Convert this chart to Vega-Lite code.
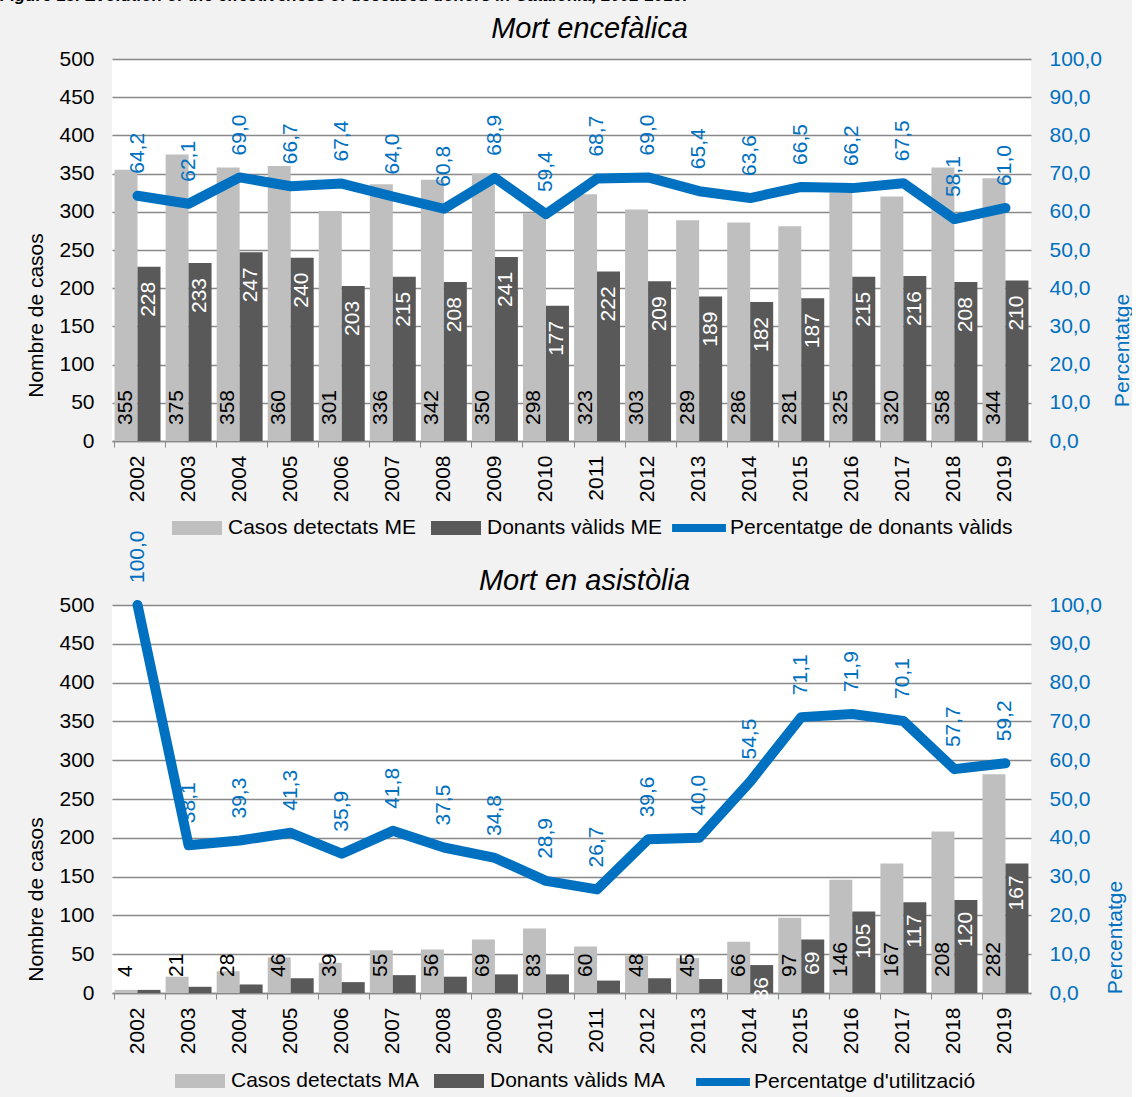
{
  "$schema": "https://vega.github.io/schema/vega-lite/v6.json",
  "background": "#f2f2f2",
  "padding": {"left": 0, "top": -13, "right": 0, "bottom": 0},
  "title": {"text": "Figure 13. Evolution of the effectiveness of deceased donors in Catalonia, 2002-2019.", "anchor": "start", "fontSize": 17, "fontStyle": "italic", "fontWeight": "bold", "color": "black", "dy": -10, "dx": -25, "offset": 0},
  "bounds": "flush",
  "spacing": 164,
  "resolve": {"scale": {"color": "independent", "stroke": "independent"}, "legend": {"color": "independent", "stroke": "independent"}},
  "config": {
    "font": "Liberation Sans",
    "locale": {"number": {"decimal": ",", "thousands": ".", "grouping": [3], "currency": ["", " €"]}},
    "view": {"fill": "white", "stroke": null},
    "axis": {"labelFontSize": 21, "titleFontSize": 21, "titleFontWeight": "normal", "labelColor": "black", "titleColor": "black"},
    "legend": {"labelFontSize": 21, "labelColor": "black", "labelLimit": 0, "labelOffset": 6, "columnPadding": 15, "direction": "horizontal", "orient": "none", "title": null}
  },
  "datasets": {
    "me_bars": [
      {"year": "2002", "serie": "Casos detectats ME", "n": 355}, {"year": "2002", "serie": "Donants vàlids ME", "n": 228},
      {"year": "2003", "serie": "Casos detectats ME", "n": 375}, {"year": "2003", "serie": "Donants vàlids ME", "n": 233},
      {"year": "2004", "serie": "Casos detectats ME", "n": 358}, {"year": "2004", "serie": "Donants vàlids ME", "n": 247},
      {"year": "2005", "serie": "Casos detectats ME", "n": 360}, {"year": "2005", "serie": "Donants vàlids ME", "n": 240},
      {"year": "2006", "serie": "Casos detectats ME", "n": 301}, {"year": "2006", "serie": "Donants vàlids ME", "n": 203},
      {"year": "2007", "serie": "Casos detectats ME", "n": 336}, {"year": "2007", "serie": "Donants vàlids ME", "n": 215},
      {"year": "2008", "serie": "Casos detectats ME", "n": 342}, {"year": "2008", "serie": "Donants vàlids ME", "n": 208},
      {"year": "2009", "serie": "Casos detectats ME", "n": 350}, {"year": "2009", "serie": "Donants vàlids ME", "n": 241},
      {"year": "2010", "serie": "Casos detectats ME", "n": 298}, {"year": "2010", "serie": "Donants vàlids ME", "n": 177},
      {"year": "2011", "serie": "Casos detectats ME", "n": 323}, {"year": "2011", "serie": "Donants vàlids ME", "n": 222},
      {"year": "2012", "serie": "Casos detectats ME", "n": 303}, {"year": "2012", "serie": "Donants vàlids ME", "n": 209},
      {"year": "2013", "serie": "Casos detectats ME", "n": 289}, {"year": "2013", "serie": "Donants vàlids ME", "n": 189},
      {"year": "2014", "serie": "Casos detectats ME", "n": 286}, {"year": "2014", "serie": "Donants vàlids ME", "n": 182},
      {"year": "2015", "serie": "Casos detectats ME", "n": 281}, {"year": "2015", "serie": "Donants vàlids ME", "n": 187},
      {"year": "2016", "serie": "Casos detectats ME", "n": 325}, {"year": "2016", "serie": "Donants vàlids ME", "n": 215},
      {"year": "2017", "serie": "Casos detectats ME", "n": 320}, {"year": "2017", "serie": "Donants vàlids ME", "n": 216},
      {"year": "2018", "serie": "Casos detectats ME", "n": 358}, {"year": "2018", "serie": "Donants vàlids ME", "n": 208},
      {"year": "2019", "serie": "Casos detectats ME", "n": 344}, {"year": "2019", "serie": "Donants vàlids ME", "n": 210}
    ],
    "me_pct": [
      {"year": "2002", "pct": 64.2}, {"year": "2003", "pct": 62.1}, {"year": "2004", "pct": 69.0}, {"year": "2005", "pct": 66.7},
      {"year": "2006", "pct": 67.4}, {"year": "2007", "pct": 64.0}, {"year": "2008", "pct": 60.8}, {"year": "2009", "pct": 68.9},
      {"year": "2010", "pct": 59.4}, {"year": "2011", "pct": 68.7}, {"year": "2012", "pct": 69.0}, {"year": "2013", "pct": 65.4},
      {"year": "2014", "pct": 63.6}, {"year": "2015", "pct": 66.5}, {"year": "2016", "pct": 66.2}, {"year": "2017", "pct": 67.5},
      {"year": "2018", "pct": 58.1}, {"year": "2019", "pct": 61.0}
    ],
    "ma_bars": [
      {"year": "2002", "serie": "Casos detectats MA", "n": 4}, {"year": "2002", "serie": "Donants vàlids MA", "n": 4},
      {"year": "2003", "serie": "Casos detectats MA", "n": 21}, {"year": "2003", "serie": "Donants vàlids MA", "n": 8},
      {"year": "2004", "serie": "Casos detectats MA", "n": 28}, {"year": "2004", "serie": "Donants vàlids MA", "n": 11},
      {"year": "2005", "serie": "Casos detectats MA", "n": 46}, {"year": "2005", "serie": "Donants vàlids MA", "n": 19},
      {"year": "2006", "serie": "Casos detectats MA", "n": 39}, {"year": "2006", "serie": "Donants vàlids MA", "n": 14},
      {"year": "2007", "serie": "Casos detectats MA", "n": 55}, {"year": "2007", "serie": "Donants vàlids MA", "n": 23},
      {"year": "2008", "serie": "Casos detectats MA", "n": 56}, {"year": "2008", "serie": "Donants vàlids MA", "n": 21},
      {"year": "2009", "serie": "Casos detectats MA", "n": 69}, {"year": "2009", "serie": "Donants vàlids MA", "n": 24},
      {"year": "2010", "serie": "Casos detectats MA", "n": 83}, {"year": "2010", "serie": "Donants vàlids MA", "n": 24},
      {"year": "2011", "serie": "Casos detectats MA", "n": 60}, {"year": "2011", "serie": "Donants vàlids MA", "n": 16},
      {"year": "2012", "serie": "Casos detectats MA", "n": 48}, {"year": "2012", "serie": "Donants vàlids MA", "n": 19},
      {"year": "2013", "serie": "Casos detectats MA", "n": 45}, {"year": "2013", "serie": "Donants vàlids MA", "n": 18},
      {"year": "2014", "serie": "Casos detectats MA", "n": 66}, {"year": "2014", "serie": "Donants vàlids MA", "n": 36},
      {"year": "2015", "serie": "Casos detectats MA", "n": 97}, {"year": "2015", "serie": "Donants vàlids MA", "n": 69},
      {"year": "2016", "serie": "Casos detectats MA", "n": 146}, {"year": "2016", "serie": "Donants vàlids MA", "n": 105},
      {"year": "2017", "serie": "Casos detectats MA", "n": 167}, {"year": "2017", "serie": "Donants vàlids MA", "n": 117},
      {"year": "2018", "serie": "Casos detectats MA", "n": 208}, {"year": "2018", "serie": "Donants vàlids MA", "n": 120},
      {"year": "2019", "serie": "Casos detectats MA", "n": 282}, {"year": "2019", "serie": "Donants vàlids MA", "n": 167}
    ],
    "ma_pct": [
      {"year": "2002", "pct": 100.0}, {"year": "2003", "pct": 38.1}, {"year": "2004", "pct": 39.3}, {"year": "2005", "pct": 41.3},
      {"year": "2006", "pct": 35.9}, {"year": "2007", "pct": 41.8}, {"year": "2008", "pct": 37.5}, {"year": "2009", "pct": 34.8},
      {"year": "2010", "pct": 28.9}, {"year": "2011", "pct": 26.7}, {"year": "2012", "pct": 39.6}, {"year": "2013", "pct": 40.0},
      {"year": "2014", "pct": 54.5}, {"year": "2015", "pct": 71.1}, {"year": "2016", "pct": 71.9}, {"year": "2017", "pct": 70.1},
      {"year": "2018", "pct": 57.7}, {"year": "2019", "pct": 59.2}
    ]
  },
  "vconcat": [
    {
      "width": 919,
      "height": 382,
      "title": {"text": "Mort encefàlica", "fontSize": 29, "fontStyle": "italic", "fontWeight": "normal", "color": "black", "anchor": "middle", "dx": 18, "offset": 4},
      "encoding": {
        "x": {"field": "year", "type": "ordinal", "scale": {"type": "band", "paddingInner": 0.1, "paddingOuter": 0.05},
              "axis": {"title": null, "labelAngle": 270, "labelPadding": 8, "tickSize": 6, "tickColor": "#898989", "domainColor": "#898989", "domainWidth": 1.5, "bandPosition": 0}}
      },
      "layer": [
        {
          "data": {"name": "me_bars"},
          "encoding": {
            "y": {"field": "n", "type": "quantitative", "scale": {"domain": [0, 500]},
                  "axis": {"title": "Nombre de casos", "values": [0, 50, 100, 150, 200, 250, 300, 350, 400, 450, 500], "grid": true, "gridColor": "#898989", "gridWidth": 1.5, "domain": false, "ticks": false, "labelPadding": 18, "titleX": -76, "titleY": 256, "titleAngle": 270, "titleAlign": "center", "titleBaseline": "middle"}}
          },
          "layer": [
            {
              "transform": [{"filter": "datum.serie === 'Casos detectats ME'"}],
              "mark": {"type": "bar", "width": {"band": 0.5}, "xOffset": -11.49},
              "encoding": {
                "color": {"field": "serie", "type": "nominal", "scale": {"domain": ["Casos detectats ME", "Donants vàlids ME"], "range": ["#bfbfbf", "#595959"]},
                          "legend": {"legendX": 60, "legendY": 444, "symbolType": "M-1,-0.28H1V0.28H-1Z", "symbolSize": 2500, "symbolStrokeWidth": 0}}
              }
            },
            {
              "transform": [{"filter": "datum.serie === 'Donants vàlids ME'"}],
              "mark": {"type": "bar", "width": {"band": 0.5}, "xOffset": 11.49},
              "encoding": {
                "color": {"field": "serie", "type": "nominal", "scale": {"domain": ["Casos detectats ME", "Donants vàlids ME"], "range": ["#bfbfbf", "#595959"]},
                          "legend": {"legendX": 60, "legendY": 444, "symbolType": "M-1,-0.28H1V0.28H-1Z", "symbolSize": 2500, "symbolStrokeWidth": 0}}
              }
            },
            {
              "transform": [{"filter": "datum.serie === 'Casos detectats ME'"}],
              "mark": {"type": "text", "angle": 270, "align": "left", "baseline": "middle", "dx": 16, "xOffset": -11.49, "fontSize": 21, "color": "black"},
              "encoding": {"y": {"datum": 0}, "text": {"field": "n", "type": "quantitative"}}
            },
            {
              "transform": [{"filter": "datum.serie === 'Donants vàlids ME'"}],
              "mark": {"type": "text", "angle": 270, "align": "right", "baseline": "middle", "dx": -15, "xOffset": 11.49, "fontSize": 21, "color": "white"},
              "encoding": {"text": {"field": "n", "type": "quantitative"}}
            }
          ]
        },
        {
          "data": {"name": "me_pct"},
          "encoding": {
            "y": {"field": "pct", "type": "quantitative", "scale": {"domain": [0, 100]},
                  "axis": {"orient": "right", "title": "Percentatge", "values": [0, 10, 20, 30, 40, 50, 60, 70, 80, 90, 100], "format": ".1f", "grid": false, "domain": false, "ticks": false, "labelPadding": 18, "labelColor": "#0070c0", "titleColor": "#0070c0", "titleX": 91, "titleY": 291, "titleAngle": 270, "titleAlign": "center", "titleBaseline": "middle"}}
          },
          "layer": [
            {
              "mark": {"type": "line", "strokeWidth": 10, "strokeCap": "round", "strokeJoin": "round"},
              "encoding": {
                "stroke": {"datum": "Percentatge de donants vàlids", "type": "nominal", "scale": {"range": ["#0070c0"]},
                           "legend": {"legendX": 556, "legendY": 438, "symbolType": "stroke", "symbolSize": 2900, "symbolStrokeWidth": 8, "labelOffset": 0}}
              }
            },
            {
              "mark": {"type": "text", "angle": 270, "align": "left", "baseline": "middle", "dx": 22, "fontSize": 21, "color": "#0070c0"},
              "encoding": {"text": {"field": "pct", "type": "quantitative", "format": ".1f"}}
            }
          ]
        }
      ],
      "resolve": {"scale": {"y": "independent"}}
    },
    {
      "width": 919,
      "height": 388,
      "title": {"text": "Mort en asistòlia", "fontSize": 29, "fontStyle": "italic", "fontWeight": "normal", "color": "black", "anchor": "middle", "dx": 13, "dy": 70, "offset": 4},
      "encoding": {
        "x": {"field": "year", "type": "ordinal", "scale": {"type": "band", "paddingInner": 0.1, "paddingOuter": 0.05},
              "axis": {"title": null, "labelAngle": 270, "labelPadding": 8, "tickSize": 6, "tickColor": "#898989", "domainColor": "#898989", "domainWidth": 1.5, "bandPosition": 0}}
      },
      "layer": [
        {
          "data": {"name": "ma_bars"},
          "encoding": {
            "y": {"field": "n", "type": "quantitative", "scale": {"domain": [0, 500]},
                  "axis": {"title": "Nombre de casos", "values": [0, 50, 100, 150, 200, 250, 300, 350, 400, 450, 500], "grid": true, "gridColor": "#898989", "gridWidth": 1.5, "domain": false, "ticks": false, "labelPadding": 18, "titleX": -76, "titleY": 294, "titleAngle": 270, "titleAlign": "center", "titleBaseline": "middle"}}
          },
          "layer": [
            {
              "transform": [{"filter": "datum.serie === 'Casos detectats MA'"}],
              "mark": {"type": "bar", "width": {"band": 0.5}, "xOffset": -11.49},
              "encoding": {
                "color": {"field": "serie", "type": "nominal", "scale": {"domain": ["Casos detectats MA", "Donants vàlids MA"], "range": ["#bfbfbf", "#595959"]},
                          "legend": {"legendX": 63, "legendY": 451, "symbolType": "M-1,-0.28H1V0.28H-1Z", "symbolSize": 2500, "symbolStrokeWidth": 0}}
              }
            },
            {
              "transform": [{"filter": "datum.serie === 'Donants vàlids MA'"}],
              "mark": {"type": "bar", "width": {"band": 0.5}, "xOffset": 11.49},
              "encoding": {
                "color": {"field": "serie", "type": "nominal", "scale": {"domain": ["Casos detectats MA", "Donants vàlids MA"], "range": ["#bfbfbf", "#595959"]},
                          "legend": {"legendX": 63, "legendY": 451, "symbolType": "M-1,-0.28H1V0.28H-1Z", "symbolSize": 2500, "symbolStrokeWidth": 0}}
              }
            },
            {
              "transform": [{"filter": "datum.serie === 'Casos detectats MA'"}],
              "mark": {"type": "text", "angle": 270, "align": "left", "baseline": "middle", "dx": 16, "xOffset": -11.49, "fontSize": 21, "color": "black"},
              "encoding": {"y": {"datum": 0}, "text": {"field": "n", "type": "quantitative"}}
            },
            {
              "transform": [{"filter": "datum.serie === 'Donants vàlids MA' && datum.n >= 30"}],
              "mark": {"type": "text", "angle": 270, "align": "right", "baseline": "middle", "dx": -12, "xOffset": 11.49, "fontSize": 21, "color": "white"},
              "encoding": {"text": {"field": "n", "type": "quantitative"}}
            }
          ]
        },
        {
          "data": {"name": "ma_pct"},
          "encoding": {
            "y": {"field": "pct", "type": "quantitative", "scale": {"domain": [0, 100]},
                  "axis": {"orient": "right", "title": "Percentatge", "values": [0, 10, 20, 30, 40, 50, 60, 70, 80, 90, 100], "format": ".1f", "grid": false, "domain": false, "ticks": false, "labelPadding": 18, "labelColor": "#0070c0", "titleColor": "#0070c0", "titleX": 84, "titleY": 332, "titleAngle": 270, "titleAlign": "center", "titleBaseline": "middle"}}
          },
          "layer": [
            {
              "mark": {"type": "line", "strokeWidth": 10, "strokeCap": "round", "strokeJoin": "round"},
              "encoding": {
                "stroke": {"datum": "Percentatge d'utilització", "type": "nominal", "scale": {"range": ["#0070c0"]},
                           "legend": {"legendX": 580, "legendY": 446, "symbolType": "stroke", "symbolSize": 2900, "symbolStrokeWidth": 8, "labelOffset": 0}}
              }
            },
            {
              "mark": {"type": "text", "angle": 270, "align": "left", "baseline": "middle", "dx": 22, "fontSize": 21, "color": "#0070c0"},
              "encoding": {"text": {"field": "pct", "type": "quantitative", "format": ".1f"}}
            }
          ]
        }
      ],
      "resolve": {"scale": {"y": "independent"}}
    }
  ]
}
